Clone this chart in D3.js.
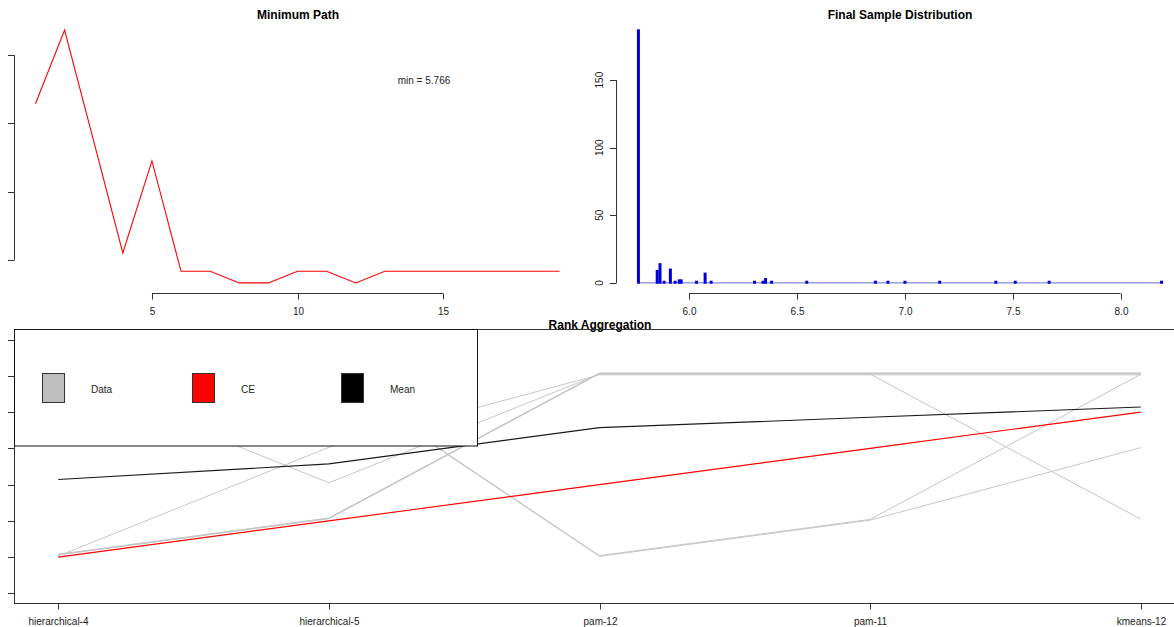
<!DOCTYPE html>
<html>
<head>
<meta charset="utf-8">
<script src="https://cdn.jsdelivr.net/npm/d3@7"></script>
<style>
  html, body { margin: 0; padding: 0; background: #fff; }
  svg { display: block; font-family: "Liberation Sans", Arial, sans-serif; }
</style>
</head>
<body>
<svg id="chart" width="1174" height="627"></svg>
<script>
// ---- Minimum path per iteration ----
const pathIter = [1, 2, 3, 4, 5, 6, 7, 8, 9, 10, 11, 12, 13, 14, 15, 16, 17, 18, 19];
const pathMin  = [6.029, 6.137, 5.974, 5.810, 5.945, 5.783, 5.783, 5.766, 5.766, 5.783,
                  5.783, 5.766, 5.783, 5.783, 5.783, 5.783, 5.783, 5.783, 5.783];
const pathYTicks = [5.8, 5.9, 6.0, 6.1];
const pathXTicks = [5, 10, 15];
const minLabel = "min = 5.766";

// ---- Final sample: distinct path lengths and their counts ----
const sampleValues = [5.766, 5.853, 5.866, 5.885, 5.914, 5.936, 5.955, 5.964, 6.035, 6.075,
                      6.103, 6.304, 6.343, 6.355, 6.383, 6.546, 6.864, 6.922, 7.001, 7.162,
                      7.422, 7.512, 7.669, 8.190];
const sampleCounts = [187, 9, 14, 1, 10, 1, 2, 2, 1, 7,
                      1, 1, 1, 3, 1, 1, 1, 1, 1, 1,
                      1, 1, 1, 1];
const distXTicks = [6.0, 6.5, 7.0, 7.5, 8.0];
const distYTicks = [0, 50, 100, 150];

// ---- Rank aggregation ----
const methods = ["hierarchical-4", "hierarchical-5", "pam-12", "pam-11", "kmeans-12"];
const ceRanks = [1, 2, 3, 4, 5];
const listRanks = [
  [6, 3, 6, 6, 2],
  [1, 4, 6, 6, 6],
  [1, 2, 6, 6, 6],
  [1, 2, 6, 6, 6],
  [1, 2, 6, 6, 6],
  [6, 6, 1, 2, 6],
  [6, 6, 1, 2, 4]
];
// small vertical jitter applied to each input list so overlapping lists stay visible
const listJitter = [0.05, 0.03, 0.08, 0.06, 0.07, 0.04, 0.02];
const rankYTicks = [0, 1, 2, 3, 4, 5, 6, 7];
const legendItems = ["Data", "CE", "Mean"];

const svg = d3.select("#chart");
svg.append("rect").attr("width", 1174).attr("height", 627).attr("fill", "#fff");

const AX = "#333";
const TXT = "#222";

function pad(ext) { const r = ext[1] - ext[0]; return [ext[0] - 0.04 * r, ext[1] + 0.04 * r]; }

function xAxisR(g, scale, ticks, y, fmt) {
  const a = g.append("g").attr("transform", `translate(0,${y})`);
  a.append("line")
    .attr("x1", scale(ticks[0])).attr("x2", scale(ticks[ticks.length - 1]))
    .attr("y1", 0.5).attr("y2", 0.5).attr("stroke", AX);
  ticks.forEach(t => {
    const x = Math.round(scale(t)) + 0.5;
    a.append("line").attr("x1", x).attr("x2", x).attr("y1", 0.5).attr("y2", 6.5).attr("stroke", AX);
    a.append("text").attr("x", x).attr("y", 22).attr("text-anchor", "middle")
      .attr("font-size", 10).attr("fill", TXT).text(fmt ? fmt(t) : t);
  });
}

function yAxisR(g, scale, ticks, x, showLine) {
  const a = g.append("g");
  if (showLine) {
    a.append("line").attr("x1", x + 0.5).attr("x2", x + 0.5)
      .attr("y1", scale(ticks[0])).attr("y2", scale(ticks[ticks.length - 1])).attr("stroke", AX);
  }
  ticks.forEach(t => {
    const y = Math.round(scale(t)) + 0.5;
    a.append("line").attr("x1", x - 6).attr("x2", x + 0.5).attr("y1", y).attr("y2", y).attr("stroke", AX);
  });
  return a;
}

// ================= Minimum Path =================
{
  const g = svg.append("g");
  const x = d3.scaleLinear().domain(pad(d3.extent(pathIter))).range([14.5, 580.5]);
  const y = d3.scaleLinear().domain(pad(d3.extent(pathMin))).range([293, 20]);

  g.append("text").attr("x", 298).attr("y", 19).attr("text-anchor", "middle")
    .attr("font-size", 12).attr("font-weight", "bold").attr("fill", "#000").text("Minimum Path");

  g.append("path")
    .datum(pathIter.map((d, i) => [d, pathMin[i]]))
    .attr("d", d3.line().x(d => x(d[0])).y(d => y(d[1])))
    .attr("fill", "none").attr("stroke", "#ff0000").attr("stroke-width", 1.1);

  g.append("text").attr("x", 424).attr("y", 84).attr("text-anchor", "middle")
    .attr("font-size", 10).attr("fill", TXT).text(minLabel);

  xAxisR(g, x, pathXTicks, 293);
  yAxisR(g, y, pathYTicks, 14, true);
}

// ================= Final Sample Distribution =================
{
  const g = svg.append("g");
  const x = d3.scaleLinear().domain(pad(d3.extent(sampleValues))).range([617.5, 1182.5]);
  const y = d3.scaleLinear().domain(pad([0, d3.max(sampleCounts)])).range([293, 20]);

  g.append("text").attr("x", 900).attr("y", 19).attr("text-anchor", "middle")
    .attr("font-size", 12).attr("font-weight", "bold").attr("fill", "#000").text("Final Sample Distribution");

  // baseline across the sampled range
  g.append("line")
    .attr("x1", x(sampleValues[0])).attr("x2", x(sampleValues[sampleValues.length - 1]) + 1)
    .attr("y1", y(0)).attr("y2", y(0))
    .attr("stroke", "#3535d0").attr("stroke-opacity", 0.75).attr("stroke-width", 1);

  g.selectAll("rect.bar").data(sampleValues).enter().append("rect")
    .attr("class", "bar")
    .attr("x", d => x(d) - 1.5)
    .attr("width", 3)
    .attr("y", (d, i) => y(sampleCounts[i]) - 0.8)
    .attr("height", (d, i) => y(0) - y(sampleCounts[i]) + 1.6)
    .attr("fill", "#0000d6");

  xAxisR(g, x, distXTicks, 293, d => d.toFixed(1));
  const ya = yAxisR(g, y, distYTicks, 616, true);
  distYTicks.forEach(t => {
    const yy = y(t);
    ya.append("text").attr("x", 600).attr("y", yy)
      .attr("transform", `rotate(-90,600,${yy})`)
      .attr("text-anchor", "middle").attr("dy", "0.35em")
      .attr("font-size", 10).attr("fill", TXT).text(t);
  });
}

// ================= Rank Aggregation =================
{
  const g = svg.append("g");
  const xi = d3.scaleLinear().domain(pad([1, methods.length])).range([15, 1184]);
  const y = d3.scaleLinear().domain(pad([0, 7])).range([603.5, 329.5]);
  const idx = methods.map((m, i) => i + 1);

  g.append("text").attr("x", 600).attr("y", 329).attr("text-anchor", "middle")
    .attr("font-size", 12).attr("font-weight", "bold").attr("fill", "#000").text("Rank Aggregation");

  const clip = g.append("clipPath").attr("id", "rankclip");
  clip.append("rect").attr("x", 15).attr("y", 329.5).attr("width", 1169).attr("height", 274);
  const plot = g.append("g").attr("clip-path", "url(#rankclip)");

  const line = d3.line().x(d => xi(d[0])).y(d => y(d[1]));

  listRanks.forEach((r, li) => {
    plot.append("path")
      .datum(r.map((v, i) => [idx[i], v + listJitter[li]]))
      .attr("d", line).attr("fill", "none")
      .attr("stroke", "#c6c6c6").attr("stroke-width", 1);
  });

  plot.append("path")
    .datum(ceRanks.map((v, i) => [idx[i], v]))
    .attr("d", line).attr("fill", "none").attr("stroke", "#ff0000").attr("stroke-width", 1.1);

  const meanRanks = methods.map((m, i) => d3.mean(listRanks, r => r[i]));
  plot.append("path")
    .datum(meanRanks.map((v, i) => [idx[i], v]))
    .attr("d", line).attr("fill", "none").attr("stroke", "#1a1a1a").attr("stroke-width", 1.1);

  // plot box
  g.append("rect").attr("x", 14.5).attr("y", 329.5).attr("width", 1180).attr("height", 274)
    .attr("fill", "none").attr("stroke", AX);

  // axes
  idx.forEach((v, i) => {
    const xx = Math.round(xi(v)) + 0.5;
    g.append("line").attr("x1", xx).attr("x2", xx).attr("y1", 603.5).attr("y2", 609.5).attr("stroke", AX);
    g.append("text").attr("x", xx).attr("y", 625).attr("text-anchor", "middle")
      .attr("font-size", 10).attr("fill", TXT).text(methods[i]);
  });
  yAxisR(g, y, rankYTicks, 14, false);

  // legend
  const lg = g.append("g");
  lg.append("rect").attr("x", 14.5).attr("y", 329.5).attr("width", 463).attr("height", 116.5)
    .attr("fill", "#fff").attr("stroke", "#111");
  const legendFill = ["#bebebe", "#ff0000", "#000000"];
  const legendX = [42, 192, 341];
  legendItems.forEach((name, i) => {
    lg.append("rect").attr("x", legendX[i] + 0.5).attr("y", 373.5).attr("width", 22).attr("height", 29)
      .attr("fill", legendFill[i]).attr("stroke", "#333");
    lg.append("text").attr("x", legendX[i] + 49).attr("y", 393)
      .attr("font-size", 10).attr("fill", TXT).text(name);
  });
}
</script>
</body>
</html>
